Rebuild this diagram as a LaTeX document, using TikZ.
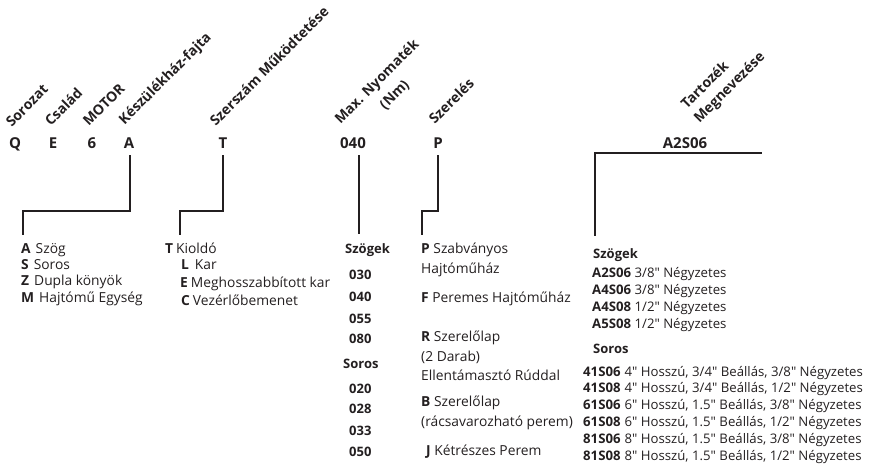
\documentclass[tikz,border=0pt]{standalone}
\usepackage{fontspec}
\newfontfamily\osans{Open Sans}
\definecolor{ink}{HTML}{231F20}
\begin{document}
\begin{tikzpicture}[x=1pt,y=-1pt,
  lbl/.style={font=\osans\bfseries\fontsize{14}{15}\selectfont, rotate=45, anchor=south west, inner sep=0pt, text=ink},
  code/.style={font=\osans\bfseries\fontsize{15}{16}\selectfont, anchor=base, inner sep=0pt, text=ink},
  item/.style={font=\osans\fontsize{13.8}{15}\selectfont, anchor=base west, inner sep=0pt, text=ink},
  acc/.style={font=\osans\fontsize{13.2}{15}\selectfont, anchor=base west, inner sep=0pt, text=ink},
  num/.style={font=\osans\bfseries\fontsize{13}{14}\selectfont, anchor=base west, inner sep=0pt, text=ink},
  conn/.style={draw=ink, line width=1.5pt}]
\useasboundingbox (0,0) rectangle (869,464);
% rotated headings
\node[lbl] (hSor) at (12,128) {Sorozat};
\node[lbl] (hCsa) at (51,127) {Család};
\node[lbl] (hMot) at (89,127) {MOTOR};
\node[lbl] (hKes) at (127,128) {Készülékház-fajta};
\node[lbl] (hSze) at (216,127) {Szerszám Működtetése};
\node[lbl] (hMax) at (343,127) {Max. Nyomaték};
\node[lbl] (hNm) at (387,112) {(Nm)};
\node[lbl] (hSzl) at (435,125) {Szerelés};
\node[lbl] (hTar) at (687,110) {Tartozék};
\node[lbl] (hMeg) at (702,126) {Megnevezése};
% codes
\node[code] (kQ) at (15,148) {Q};
\node[code] (kE) at (53,148) {E};
\node[code] (k6) at (92,148) {6};
\node[code] (kA) at (129,148) {A};
\node[code] (kT) at (223,148) {T};
\node[code] (k040) at (353,148) {040};
\node[code] (kP) at (438,148) {P};
\node[code] (kA2) at (685,148) {A2S06};
% connector ends
\coordinate (e1) at (23,235);
\coordinate (e2) at (180,235);
\coordinate (e3) at (359,234);
\coordinate (e4) at (422,235);
\coordinate (e5) at (595,235);
\coordinate (r5) at (761,153);
\draw[conn] ([xshift=1pt,yshift=-7pt]kA.south) -- ++(0,56) -| (e1);
\draw[conn] ([yshift=-7pt]kT.south) -- ++(0,56) -| (e2);
\draw[conn] ([xshift=6pt,yshift=-7pt]k040.south) -- (e3);
\draw[conn] ([yshift=-7pt]kP.south) -- ++(0,56) -| (e4);
\draw[conn, line cap=rect] (r5) -| (e5);
% column 1
\node[item] (a1) at (21,253) {\textbf{A}\hspace{5pt}Szög};
\node[item] (a2) at (21,269) {\textbf{S}\hspace{5pt}Soros};
\node[item] (a3) at (21,285) {\textbf{Z}\hspace{5pt}Dupla könyök};
\node[item] (a4) at (21,302) {\textbf{M}\hspace{5pt}Hajtómű Egység};
% column 2
\node[item] (b1) at (165,253) {\textbf{T}\hspace{3pt}Kioldó};
\node[item] (b2) at (181,269) {\textbf{L}\hspace{6pt}Kar};
\node[item] (b3) at (180,287) {\textbf{E}\hspace{3pt}Meghosszabbított kar};
\node[item] (b4) at (181,305) {\textbf{C}\hspace{3pt}Vezérlőbemenet};
% column 3
\node[num] (c0) at (345,253) {Szögek};
\node[num] (c1) at (349,279) {030};
\node[num] (c2) at (349,301) {040};
\node[num] (c3) at (349,323) {055};
\node[num] (c4) at (349,343) {080};
\node[num] (c5) at (343,368) {Soros};
\node[num] (c6) at (349,393) {020};
\node[num] (c7) at (349,413) {028};
\node[num] (c8) at (349,435) {033};
\node[num] (c9) at (349,456) {050};
% column 4
\node[item] (d1) at (421,253) {\textbf{P} Szabványos};
\node[item] (d2) at (421,273) {Hajtóműház};
\node[item] (d3) at (421,302) {\textbf{F} Peremes Hajtóműház};
\node[item] (d4) at (421,341) {\textbf{R} Szerelőlap};
\node[item] (d5) at (421,361) {(2 Darab)};
\node[item] (d6) at (421,380) {Ellentámasztó Rúddal};
\node[item] (d7) at (421,406) {\textbf{B} Szerelőlap};
\node[item] (d8) at (421,426) {(rácsavarozható perem)};
\node[item] (d9) at (426,455) {\textbf{J} Kétrészes Perem};
% column 5
\node[num] (f0) at (593,258) {Szögek};
\node[acc] (f1) at (592,277) {\textbf{A2S06} 3/8" Négyzetes};
\node[acc] (f2) at (592,294) {\textbf{A4S06} 3/8" Négyzetes};
\node[acc] (f3) at (592,311) {\textbf{A4S08} 1/2" Négyzetes};
\node[acc] (f4) at (592,328) {\textbf{A5S08} 1/2" Négyzetes};
\node[num] (f5) at (593,353) {Soros};
\node[acc] (g1) at (583,376) {\textbf{41S06}\hspace{4pt}4" Hosszú, 3/4" Beállás, 3/8" Négyzetes};
\node[acc] (g2) at (583,392) {\textbf{41S08}\hspace{4pt}4" Hosszú, 3/4" Beállás, 1/2" Négyzetes};
\node[acc] (g3) at (583,409) {\textbf{61S06}\hspace{4pt}6" Hosszú, 1.5" Beállás, 3/8" Négyzetes};
\node[acc] (g4) at (583,426) {\textbf{61S08}\hspace{4pt}6" Hosszú, 1.5" Beállás, 1/2" Négyzetes};
\node[acc] (g5) at (583,443) {\textbf{81S06}\hspace{4pt}8" Hosszú, 1.5" Beállás, 3/8" Négyzetes};
\node[acc] (g6) at (583,460) {\textbf{81S08}\hspace{4pt}8" Hosszú, 1.5" Beállás, 1/2" Négyzetes};
\end{tikzpicture}
\end{document}
